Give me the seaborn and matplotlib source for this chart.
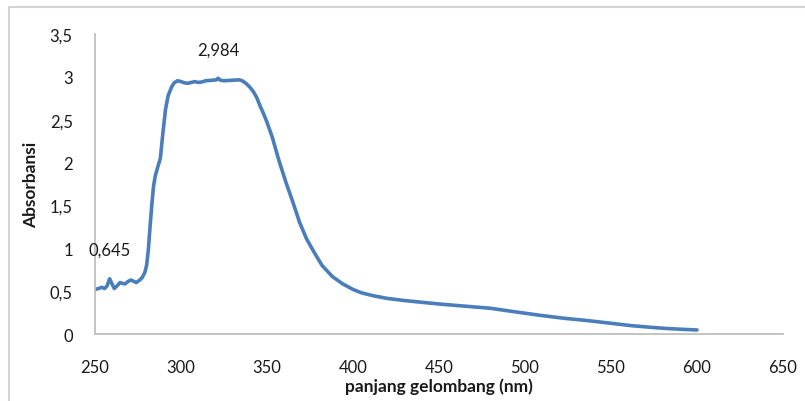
import matplotlib
matplotlib.use("Agg")
import matplotlib.pyplot as plt
from matplotlib.lines import Line2D
from matplotlib.ticker import FuncFormatter, MultipleLocator
import seaborn as sns
import pandas as pd

wavelength = [250, 252, 254, 255.5, 257, 258.5, 260, 261.2, 263, 264.5, 266, 267.5, 269, 270.8,
              272.5, 274, 276, 277.5, 279, 280, 281, 282, 283, 284, 285, 286.5, 288, 289.5,
              291, 292.5, 294.5, 296, 298, 300, 302, 304, 306, 308, 310, 312, 314.5, 318,
              320.5, 321.5, 323, 325, 328, 331, 334, 336, 338, 340, 342, 344, 346, 348,
              350, 353, 357, 361, 365, 369, 373, 377.5, 382, 388, 394, 400, 405, 412, 420,
              430, 440, 450, 465, 480, 492, 508, 522, 537, 550, 562, 572, 581, 590, 600]
absorbance = [0.52, 0.53, 0.545, 0.53, 0.56, 0.645, 0.58, 0.53, 0.565, 0.60, 0.59, 0.585, 0.61,
              0.63, 0.615, 0.60, 0.63, 0.66, 0.72, 0.80, 0.98, 1.25, 1.50, 1.72, 1.84, 1.95,
              2.05, 2.35, 2.62, 2.78, 2.88, 2.93, 2.955, 2.945, 2.93, 2.925, 2.935, 2.945, 2.935,
              2.94, 2.955, 2.96, 2.965, 2.984, 2.96, 2.955, 2.958, 2.962, 2.965, 2.95, 2.92,
              2.88, 2.83, 2.76, 2.66, 2.57, 2.47, 2.30, 2.02, 1.77, 1.54, 1.30, 1.11, 0.95,
              0.80, 0.67, 0.585, 0.52, 0.48, 0.445, 0.415, 0.39, 0.37, 0.35, 0.325, 0.30,
              0.265, 0.22, 0.185, 0.155, 0.125, 0.097, 0.08, 0.066, 0.056, 0.047]

label_points = [(258.5, 0.645, "0,645"), (321.5, 2.984, "2,984")]

x_ticks = [250, 300, 350, 400, 450, 500, 550, 600, 650]

df = pd.DataFrame({"wavelength": wavelength, "absorbance": absorbance})

sns.set_theme(style="white")
plt.rcParams["font.family"] = ["Lato", "DejaVu Sans"]

fig = plt.figure(figsize=(8.05, 4.02), dpi=100)
ax = fig.add_axes([95 / 805, 1 - 335 / 402, (783 - 95) / 805, 300 / 402])

sns.lineplot(data=df, x="wavelength", y="absorbance", ax=ax, color="#4A7EBB",
             linewidth=2.6, sort=False, estimator=None)

for x, y, t in label_points:
    ax.annotate(t, (x, y), xytext=(0, 15), textcoords="offset points",
                ha="center", va="bottom", fontsize=12, color="#1a1a1a")

ax.set_xlim(250, 650)
ax.set_ylim(0, 3.5)
ax.set_xticks(x_ticks)
ax.yaxis.set_major_locator(MultipleLocator(0.5))
fmt = FuncFormatter(lambda v, p: (f"{v:g}").replace(".", ","))
ax.xaxis.set_major_formatter(fmt)
ax.yaxis.set_major_formatter(fmt)
ax.tick_params(axis="both", length=0, labelsize=12, colors="#1a1a1a")
ax.tick_params(axis="x", pad=18)
ax.tick_params(axis="y", pad=16)

for s in ["top", "right"]:
    ax.spines[s].set_visible(False)
for s in ["left", "bottom"]:
    ax.spines[s].set_color("#BFBFBF")
    ax.spines[s].set_linewidth(1.3)

ax.set_xlabel("panjang gelombang (nm)", fontsize=12.5, fontweight="bold", color="#1a1a1a", labelpad=2)
ax.set_ylabel("Absorbansi", fontsize=12.5, fontweight="bold", color="#1a1a1a", labelpad=8)
ax.grid(False)

# outer chart border (partially cropped)
fig.add_artist(Line2D([9 / 805, 1], [1 - 7.5 / 402, 1 - 7.5 / 402], color="#D4D4D4", linewidth=1.5))
fig.add_artist(Line2D([9 / 805, 9 / 805], [0, 1 - 7.5 / 402], color="#D4D4D4", linewidth=1.5))

fig.savefig("out.png", dpi=100)
